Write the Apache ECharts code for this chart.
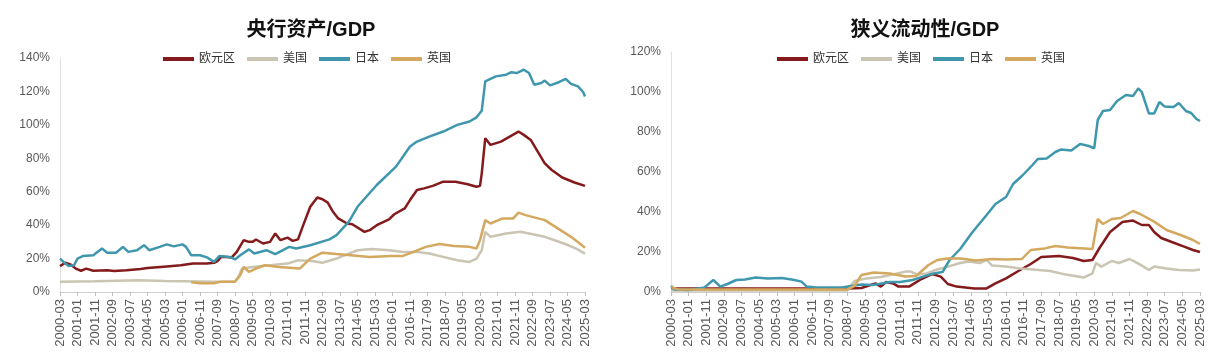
<!DOCTYPE html>
<html><head><meta charset="utf-8">
<script src="https://cdn.jsdelivr.net/npm/echarts@6/dist/echarts.min.js"></script>
<style>html,body{margin:0;padding:0;background:#fff}#c{width:1218px;height:360px}</style>
</head><body><div id="c"></div>
<script>
// monthly category labels 2000-03 .. 2025-03
const months = [];
(function(){ let y=2000, m=3; while (y<2025 || (y===2025 && m<=3)) { months.push(y+'-'+String(m).padStart(2,'0')); m++; if (m>12){m=1;y++;} } })();

const seriesNames = ['欧元区','美国','日本','英国'];
const titles = ['央行资产/GDP','狭义流动性/GDP'];

// ---- 央行资产/GDP (%) ----
const cbEZ = [['2000-03',15.5],['2000-06',17.5],['2000-09',16.5],['2000-12',14],['2001-03',12.7],['2001-06',14],['2001-10',12.7],['2002-06',13],['2002-10',12.5],['2003-05',13],['2004-01',13.7],['2004-05',14.3],['2005-04',15.3],['2005-12',16],['2006-07',17],['2007-03',17],['2007-07',17.5],['2007-09',18.5],['2007-11',21],['2008-02',21],['2008-05',20.6],['2008-08',24],['2008-12',31],['2009-03',30],['2009-05',30],['2009-07',31.4],['2009-11',29],['2010-03',30],['2010-06',35],['2010-09',31],['2011-01',32.5],['2011-04',30.6],['2011-07',31.5],['2011-10',40],['2012-02',51],['2012-06',56.5],['2012-09',55.5],['2012-12',53.5],['2013-03',48],['2013-06',44],['2013-11',41],['2014-02',40.5],['2014-09',36],['2014-12',37],['2015-04',40],['2015-11',43.5],['2016-02',46.5],['2016-08',50],['2016-11',55],['2017-03',61],['2017-07',62],['2017-12',63.5],['2018-06',66],['2019-01',66],['2019-08',64.5],['2020-01',63],['2020-03',63.5],['2020-04',71],['2020-06',92],['2020-09',88],['2021-03',90],['2021-08',93],['2022-01',96],['2022-04',94],['2022-08',91],['2022-12',84],['2023-04',77],['2023-08',73],['2024-02',68.5],['2024-09',65.5],['2025-03',63.5]];
const cbUS = [['2000-03',6.2],['2001-11',6.4],['2003-12',7],['2005-03',6.6],['2007-09',6.2],['2008-07',6.3],['2008-09',9],['2008-11',14],['2009-05',15],['2010-03',16],['2011-01',17],['2011-07',19],['2012-03',18.5],['2012-09',17.5],['2013-05',20],['2013-12',23],['2014-05',25],['2015-01',25.7],['2015-11',25],['2016-07',24],['2017-03',24],['2017-10',23],['2018-06',21],['2019-02',19],['2019-09',18],['2020-01',20],['2020-04',25],['2020-06',36],['2020-09',33],['2021-06',35],['2022-02',36],['2022-07',35],['2023-04',33],['2024-03',29],['2024-10',26],['2025-03',23]];
const cbJP = [['2000-03',20],['2000-06',17],['2000-08',15.5],['2000-11',16],['2001-01',20],['2001-04',21.5],['2001-10',22],['2002-03',26],['2002-06',23.5],['2002-11',23.5],['2003-03',27],['2003-06',24],['2003-11',25],['2004-03',28],['2004-06',25],['2004-12',27],['2005-04',28.5],['2005-08',27.3],['2006-01',28.5],['2006-03',27],['2006-06',22],['2006-11',22],['2007-03',20.7],['2007-07',18],['2007-10',21.5],['2008-04',21],['2008-07',19.5],['2008-10',22],['2009-03',25.5],['2009-06',23],['2010-01',25],['2010-06',22.6],['2011-02',27],['2011-06',26],['2012-02',28],['2013-01',31.5],['2013-05',34],['2013-12',42],['2014-05',51],['2015-04',64],['2016-03',75],['2016-11',87],['2017-03',90],['2017-10',93],['2018-06',96],['2019-02',100],['2019-09',102],['2020-01',104.5],['2020-04',108.5],['2020-06',126],['2020-12',129],['2021-06',130],['2021-09',131.5],['2021-12',131],['2022-04',133],['2022-07',131],['2022-10',124],['2023-02',125],['2023-04',126.5],['2023-07',123.6],['2023-12',125.5],['2024-04',127.5],['2024-07',124.5],['2024-11',123],['2025-02',119.5],['2025-03',117]];
const cbUK = [['2006-06',5.8],['2006-11',5.2],['2007-07',5.2],['2007-11',6.2],['2008-07',6.2],['2008-10',10],['2008-12',15],['2009-03',12],['2009-07',14],['2009-12',16],['2010-08',15],['2011-08',14],['2012-02',20],['2012-09',23.5],['2013-05',22.7],['2014-01',22],['2014-12',21],['2015-12',21.5],['2016-07',21.6],['2017-01',24],['2017-08',27],['2018-04',28.7],['2018-12',27.5],['2019-09',27],['2020-01',26],['2020-03',31],['2020-06',43],['2020-09',41],['2021-04',44],['2021-10',44],['2022-01',47.5],['2022-05',46],['2023-04',43],['2024-01',37],['2024-07',33],['2024-12',29],['2025-03',26.5]];

// ---- 狭义流动性/GDP (%) ----
const lqEZ = [['2000-03',1.8],['2008-07',1.8],['2009-03',2],['2009-11',4.3],['2010-02',2.7],['2010-05',5],['2010-09',4.3],['2010-12',2.7],['2011-06',2.7],['2011-09',4.3],['2012-01',6.5],['2012-07',9],['2012-12',7.7],['2013-04',4],['2013-09',2.7],['2014-07',1.8],['2015-02',1.8],['2015-07',4.3],['2016-01',6.8],['2016-08',10.5],['2017-03',14],['2017-09',17.5],['2018-07',18],['2019-03',17],['2019-09',15.5],['2020-02',16],['2020-06',22],['2020-12',30],['2021-07',35],['2022-01',35.7],['2022-06',33.5],['2022-10',33.5],['2023-01',30],['2023-05',27],['2023-11',25],['2024-06',22.7],['2024-11',21],['2025-03',20]];
const lqUS = [['2000-03',0.8],['2008-07',0.8],['2008-09',3],['2008-11',5.5],['2009-06',6.8],['2010-02',7.5],['2010-10',9],['2011-04',10.2],['2011-07',10.2],['2011-11',8.7],['2012-04',9.3],['2012-09',11],['2013-04',12.7],['2013-11',14.5],['2014-04',15.3],['2014-10',14.5],['2015-02',16],['2015-05',13.3],['2016-01',12.7],['2016-09',11.8],['2017-06',11.1],['2018-02',10.5],['2018-11',8.7],['2019-09',7.2],['2020-02',9.3],['2020-04',14.5],['2020-07',12.7],['2021-01',15.5],['2021-05',14.5],['2021-11',16.5],['2022-02',15.2],['2022-07',12.7],['2022-10',11],['2023-01',12.7],['2023-08',11.8],['2024-03',11],['2024-11',10.8],['2025-03',11.3]];
const lqJP = [['2000-03',3],['2000-05',1.3],['2001-01',1],['2001-10',2.3],['2002-03',6],['2002-07',2.7],['2002-11',4],['2003-04',6],['2003-09',6.3],['2004-03',7.3],['2004-10',6.7],['2005-06',7],['2006-01',6],['2006-05',5.2],['2006-08',2.7],['2007-01',2.3],['2008-04',2.3],['2008-09',3],['2009-03',3.7],['2009-09',3.5],['2010-01',4],['2010-07',5],['2011-01',5],['2011-08',6],['2012-02',7.7],['2012-08',9.3],['2013-01',10],['2013-05',16],['2013-11',21.5],['2014-06',30],['2015-02',38.5],['2015-07',44],['2016-01',47.5],['2016-05',54],['2016-10',58],['2017-04',63.5],['2017-07',66.5],['2017-12',66.8],['2018-05',70],['2018-08',71.2],['2019-02',70.8],['2019-07',74],['2019-12',73],['2020-03',71.8],['2020-05',86],['2020-08',90.5],['2020-12',91],['2021-04',95.5],['2021-09',98.5],['2022-01',98],['2022-04',101.8],['2022-06',100],['2022-10',89.3],['2023-01',89.3],['2023-04',95],['2023-07',92.7],['2023-12',92.5],['2024-03',94.5],['2024-07',90.5],['2024-10',89.5],['2025-01',86.5],['2025-03',85.5]];
const lqUK = [['2000-03',2.5],['2000-07',1.3],['2004-05',1.3],['2008-07',1.3],['2008-11',3],['2009-03',8.5],['2009-10',9.7],['2010-07',9.2],['2011-04',7.7],['2011-10',8],['2012-05',13.5],['2012-10',16],['2013-04',16.8],['2013-11',16.8],['2014-08',15.8],['2015-05',16.5],['2016-01',16.3],['2016-10',16.5],['2017-03',21],['2017-11',21.8],['2018-05',23],['2018-12',22.2],['2019-07',21.9],['2020-02',21.5],['2020-05',36.5],['2020-08',34],['2021-01',36.5],['2021-06',37],['2022-01',40.5],['2022-05',39],['2023-01',35.2],['2023-08',31],['2024-04',28.5],['2024-11',26],['2025-03',24]];

const colors = ['#841a1b','#c9c5b2','#3f97ae','#d4a85e'];
const FONT = '"Liberation Sans", "Noto Sans CJK SC", sans-serif';

function xAxis(gi){ return {
  type:'category', gridIndex:gi, data:months, boundaryGap:false,
  axisLine:{lineStyle:{color:'#d0d0d0'}},
  axisTick:{show:true, interval:9, length:4, lineStyle:{color:'#bfbfbf'}},
  axisLabel:{interval:9, rotate:90, color:'#595959', fontSize:13, fontFamily:FONT, margin:7},
  splitLine:{show:false}
};}
function yAxis(gi, max){ return {
  type:'value', gridIndex:gi, min:0, max:max, interval:20,
  axisLine:{show:true, lineStyle:{color:'#e0e0e0'}},
  axisTick:{show:false}, splitLine:{show:false},
  axisLabel:{formatter:'{value}%', color:'#595959', fontSize:12, fontFamily:FONT, margin:10}
};}
function mk(name, data, gi, ci){ return {
  name:name, type:'line', xAxisIndex:gi, yAxisIndex:gi, data:data,
  showSymbol:false, symbol:'none', lineStyle:{width:2.5, color:colors[ci]}, itemStyle:{color:colors[ci]}, z:2
};}
function legend(left){ return {
  data:seriesNames, left:left, top:53, padding:0, icon:'rect', itemWidth:31, itemHeight:4, itemGap:12,
  textStyle:{fontSize:12, color:'#333', fontFamily:FONT}
};}

const chart = echarts.init(document.getElementById('c'), null, {renderer:'canvas'});
chart.setOption({
  animation:false,
  backgroundColor:'#fff',
  title:[
    {text:titles[0], left:306, top:15, textAlign:'center', textStyle:{fontSize:20, fontWeight:'bold', color:'#111', fontFamily:FONT}},
    {text:titles[1], left:920, top:15, textAlign:'center', textStyle:{fontSize:20, fontWeight:'bold', color:'#111', fontFamily:FONT}}
  ],
  legend:[legend(163), legend(777)],
  grid:[
    {left:60, width:525, top:58, height:234},
    {left:671, width:529, top:52, height:240}
  ],
  xAxis:[xAxis(0), xAxis(1)],
  yAxis:[yAxis(0,140), yAxis(1,120)],
  series:[
    mk(seriesNames[0], cbEZ, 0, 0), mk(seriesNames[1], cbUS, 0, 1), mk(seriesNames[2], cbJP, 0, 2), mk(seriesNames[3], cbUK, 0, 3),
    mk(seriesNames[0], lqEZ, 1, 0), mk(seriesNames[1], lqUS, 1, 1), mk(seriesNames[2], lqJP, 1, 2), mk(seriesNames[3], lqUK, 1, 3)
  ]
});
</script>
</body></html>
